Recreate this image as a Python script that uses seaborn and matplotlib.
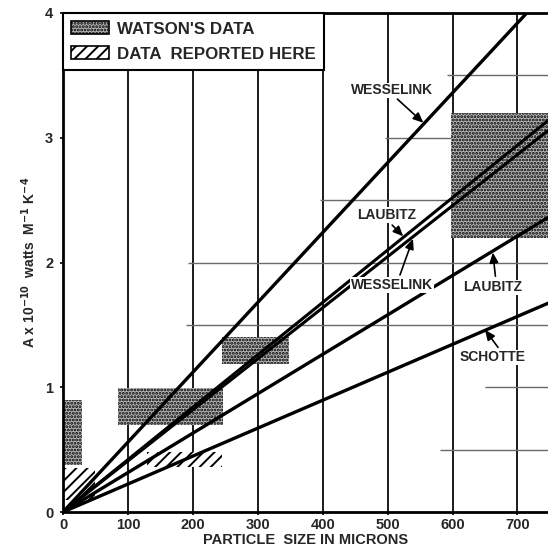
import matplotlib
matplotlib.use("Agg")
import matplotlib.pyplot as plt
from matplotlib.patches import Rectangle, Patch
import numpy as np
import pandas as pd
import seaborn as sns

# ---------------- data ----------------
line_ids = ["WESSELINK_TOP", "LAUBITZ_UP", "WESSELINK_MID", "LAUBITZ_LOW", "SCHOTTE"]
line_x_start = [0, 0, 0, 0, 0]
line_y_start = [0, 0, 0, 0, 0]
line_x_end = [750, 750, 750, 750, 750]
line_y_end = [4.20, 3.15, 3.07, 2.37, 1.68]
line_widths = [2.4, 2.2, 2.2, 2.4, 2.4]

# Watson's data (stippled boxes): x0, x1, y0, y1
watson_x0 = [0, 85, 245, 598]
watson_x1 = [30, 247, 348, 750]
watson_y0 = [0.38, 0.70, 1.19, 2.20]
watson_y1 = [0.90, 0.99, 1.40, 3.20]

# Data reported here (hatched boxes)
here_x0 = [0, 130]
here_x1 = [50, 245]
here_y0 = [0.10, 0.36]
here_y1 = [0.35, 0.48]

x_ticks = [0, 100, 200, 300, 400, 500, 600, 700]
y_ticks = [0, 1, 2, 3, 4]

# partial horizontal grid lines of the graph paper
hgrid_y = [0.5, 1.0, 1.5, 2.0, 2.5, 3.0, 3.5]
hgrid_xstart = [580, 650, 190, 193, 396, 496, 592]

labels_text = ["WESSELINK", "LAUBITZ", "WESSELINK", "LAUBITZ", "SCHOTTE"]
labels_pos = [(507, 3.38), (499, 2.38), (507, 1.82), (661, 1.80), (661, 1.24)]
arrow_tail = [(515, 3.31), (507, 2.30), (519, 1.90), (666, 1.89), (670, 1.32)]
arrow_head = [(555, 3.12), (524, 2.21), (539, 2.19), (662, 2.08), (650, 1.46)]

# ---------------- style ----------------
sns.set_theme(style="white")
plt.rcParams["font.family"] = ["Liberation Sans", "DejaVu Sans"]
plt.rcParams["font.weight"] = "bold"
plt.rcParams["hatch.linewidth"] = 1.4

STIPPLE_FACE = "#b8b8b8"
STIPPLE_HATCH = "....."

fig = plt.figure(figsize=(5.48, 5.54), dpi=100)
ax = fig.add_axes([63 / 548, 1 - 512 / 554, 485 / 548, 499 / 554])

# graph paper grid
for xv in x_ticks[1:]:
    ax.axvline(xv, color="#1a1a1a", lw=1.4, zorder=1)
ax.hlines(hgrid_y, hgrid_xstart, 750, color="#6a6a6a", lw=1.0, zorder=1)

# data boxes
for x0, x1, y0, y1 in zip(watson_x0, watson_x1, watson_y0, watson_y1):
    ax.add_patch(Rectangle((x0, y0), x1 - x0, y1 - y0, facecolor=STIPPLE_FACE,
                           edgecolor="black", hatch=STIPPLE_HATCH, linewidth=0, zorder=2))
for x0, x1, y0, y1 in zip(here_x0, here_x1, here_y0, here_y1):
    ax.add_patch(Rectangle((x0, y0), x1 - x0, y1 - y0, facecolor="white",
                           edgecolor="black", hatch="///", linewidth=0, zorder=2))

# lines
rows = []
for lid, xs, ys, xe, ye in zip(line_ids, line_x_start, line_y_start, line_x_end, line_y_end):
    rows.append({"id": lid, "x": xs, "y": ys})
    rows.append({"id": lid, "x": xe, "y": ye})
df = pd.DataFrame(rows)
for lid, lw in zip(line_ids, line_widths):
    sns.lineplot(data=df[df["id"] == lid], x="x", y="y", color="black",
                 lw=lw, ax=ax, legend=False, zorder=3, estimator=None,
                 solid_capstyle="butt")

# annotations
for txt, pos, tail, head in zip(labels_text, labels_pos, arrow_tail, arrow_head):
    ax.text(pos[0], pos[1], txt, ha="center", va="center", fontsize=10,
            fontweight="bold", zorder=5,
            bbox=dict(facecolor="white", edgecolor="none", pad=0.5))
    ax.annotate("", xy=head, xytext=tail,
                arrowprops=dict(arrowstyle="-|>,head_length=0.5,head_width=0.22",
                                color="black", lw=1.2, shrinkA=0, shrinkB=0),
                zorder=5)

ax.set_xlim(0, 747)
ax.set_ylim(0, 4)
ax.set_xticks(x_ticks)
ax.set_yticks(y_ticks)
ax.set_xticklabels([str(v) for v in x_ticks], fontsize=10.5, fontweight="bold")
ax.set_yticklabels([str(v) for v in y_ticks], fontsize=10.5, fontweight="bold")
ax.tick_params(axis="both", length=2, width=1.2, color="black", pad=2,
               direction="out")
ax.tick_params(axis="x", bottom=True)
ax.tick_params(axis="y", left=True, pad=5)

for side in ["left", "bottom", "top"]:
    ax.spines[side].set_visible(True)
    ax.spines[side].set_color("black")
    ax.spines[side].set_linewidth(2.0)
ax.spines["right"].set_visible(False)

ax.set_xlabel("PARTICLE  SIZE IN MICRONS", fontsize=10.5, fontweight="bold",
              labelpad=1)
ax.set_ylabel(r"A x 10$^{\mathbf{-10}}$  watts  M$^{\mathbf{-1}}$ K$^{\mathbf{-4}}$",
              fontsize=10, fontweight="bold", labelpad=5)

handles = [Patch(facecolor=STIPPLE_FACE, edgecolor="black", hatch=STIPPLE_HATCH,
                 label="WATSON'S DATA", linewidth=1.2),
           Patch(facecolor="white", edgecolor="black", hatch="///",
                 label="DATA  REPORTED HERE", linewidth=1.2)]
leg = ax.legend(handles=handles, loc="upper left", bbox_to_anchor=(0, 1),
                borderaxespad=0, frameon=True, fancybox=False,
                edgecolor="black", framealpha=1, prop={"size": 12.2, "weight": "bold"},
                handlelength=2.2, handleheight=0.8, handletextpad=0.5,
                labelspacing=0.55, borderpad=0.5)
leg.get_frame().set_linewidth(1.5)
leg.set_zorder(6)

fig.savefig("out.png", dpi=100)
